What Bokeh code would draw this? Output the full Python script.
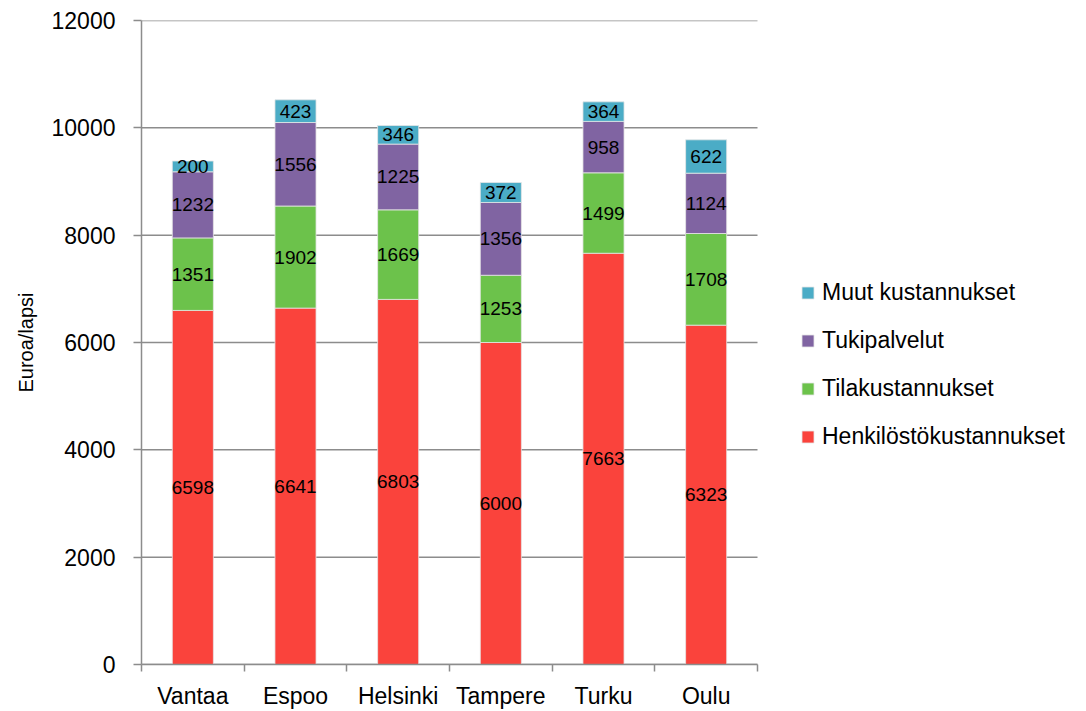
import numpy as np
from bokeh.plotting import figure
from bokeh.models import (ColumnDataSource, Range1d, FixedTicker, Legend, LegendItem,
                          LabelSet)
from bokeh.core.properties import value
from bokeh.embed import file_html
from bokeh.resources import INLINE

cities = ["Vantaa", "Espoo", "Helsinki", "Tampere", "Turku", "Oulu"]
henkilosto = [6598, 6641, 6803, 6000, 7663, 6323]
tila = [1351, 1902, 1669, 1253, 1499, 1708]
tuki = [1232, 1556, 1225, 1356, 958, 1124]
muut = [200, 423, 346, 372, 364, 622]
series_names = ["Henkilöstökustannukset", "Tilakustannukset", "Tukipalvelut", "Muut kustannukset"]
colors = ["#FA433C", "#6CC24B", "#8064A2", "#4BACC6"]
y_ticks = [0, 2000, 4000, 6000, 8000, 10000, 12000]

FONT = "Liberation Sans"

W, H = 1082, 711
LEFT, TOP, BOTTOM_PX = 141, 20, 664
PLOT_W = 616  # pixel width of the category area
n = len(cities)
x_end = n * (W - LEFT) / PLOT_W

p = figure(width=W, height=H, output_backend="svg", toolbar_location=None,
           x_range=Range1d(0, x_end), y_range=Range1d(0, 12000),
           min_border_left=LEFT, min_border_right=0, min_border_top=TOP,
           min_border_bottom=H - BOTTOM_PX)
p.outline_line_color = None
p.background_fill_color = "white"
p.xgrid.grid_line_color = None
p.ygrid.grid_line_color = None

# horizontal gridlines limited to the category area
p.segment(x0=[0] * len(y_ticks), x1=[n] * len(y_ticks), y0=y_ticks, y1=y_ticks,
          line_color="#8c8c8c", line_width=1.5)

x = np.arange(n) + 0.5
all_series = [henkilosto, tila, tuki, muut]
bottom = np.zeros(n)
renderers = []
for vals, name, col in zip(all_series, series_names, colors):
    vals = np.array(vals, dtype=float)
    top = bottom + vals
    src = ColumnDataSource(dict(x=x, bottom=bottom, top=top, mid=(bottom + top) / 2,
                                lab=[str(int(v)) for v in vals]))
    r = p.vbar(x="x", bottom="bottom", top="top", width=0.4, source=src,
               fill_color=col, line_color="#e6e6e6", line_width=0.8)
    renderers.append((name, r))
    p.add_layout(LabelSet(x="x", y="mid", text="lab", source=src, text_align="center",
                          text_baseline="middle", text_font=value(FONT), text_font_size="19px",
                          text_color="black"))
    bottom = top

# axes
p.yaxis.ticker = FixedTicker(ticks=y_ticks)
p.yaxis.axis_line_color = "#8c8c8c"
p.yaxis.axis_line_width = 1.5
p.yaxis.major_tick_line_color = "#8c8c8c"
p.yaxis.major_tick_line_width = 1.5
p.yaxis.major_tick_out = 8
p.yaxis.major_tick_in = 0
p.yaxis.minor_tick_line_color = None
p.yaxis.major_label_text_font = FONT
p.yaxis.major_label_text_font_size = "23px"
p.yaxis.major_label_text_color = "black"
p.yaxis.major_label_standoff = 18
p.yaxis.axis_label = "Euroa/lapsi"
p.yaxis.axis_label_text_font = FONT
p.yaxis.axis_label_text_font_size = "20px"
p.yaxis.axis_label_text_font_style = "normal"
p.yaxis.axis_label_text_color = "black"
p.yaxis.axis_label_standoff = 12

p.xaxis.ticker = FixedTicker(ticks=list(x), minor_ticks=list(range(n + 1)))
p.xaxis.bounds = (0, n)
p.xaxis.major_label_overrides = {float(v): c for v, c in zip(x, cities)}
p.xaxis.axis_line_color = "#8c8c8c"
p.xaxis.axis_line_width = 1.5
p.xaxis.major_tick_line_color = None
p.xaxis.major_tick_out = 0
p.xaxis.major_tick_in = 0
p.xaxis.minor_tick_line_color = "#8c8c8c"
p.xaxis.minor_tick_line_width = 1.5
p.xaxis.minor_tick_out = 7
p.xaxis.minor_tick_in = 0
p.xaxis.major_label_text_font = FONT
p.xaxis.major_label_text_font_size = "23px"
p.xaxis.major_label_text_color = "black"
p.xaxis.major_label_standoff = 11

items = [LegendItem(label=nm, renderers=[r]) for nm, r in reversed(renderers)]
legend = Legend(items=items, location=(800 - LEFT, BOTTOM_PX - 450), orientation="vertical",
                label_text_font=FONT, label_text_font_size="23px", label_text_color="black",
                glyph_width=15, glyph_height=15, label_standoff=7, spacing=21,
                border_line_color=None, background_fill_alpha=0, padding=0, margin=0)
p.add_layout(legend, "center")

open("out.html", "w").write(file_html(p, INLINE))
